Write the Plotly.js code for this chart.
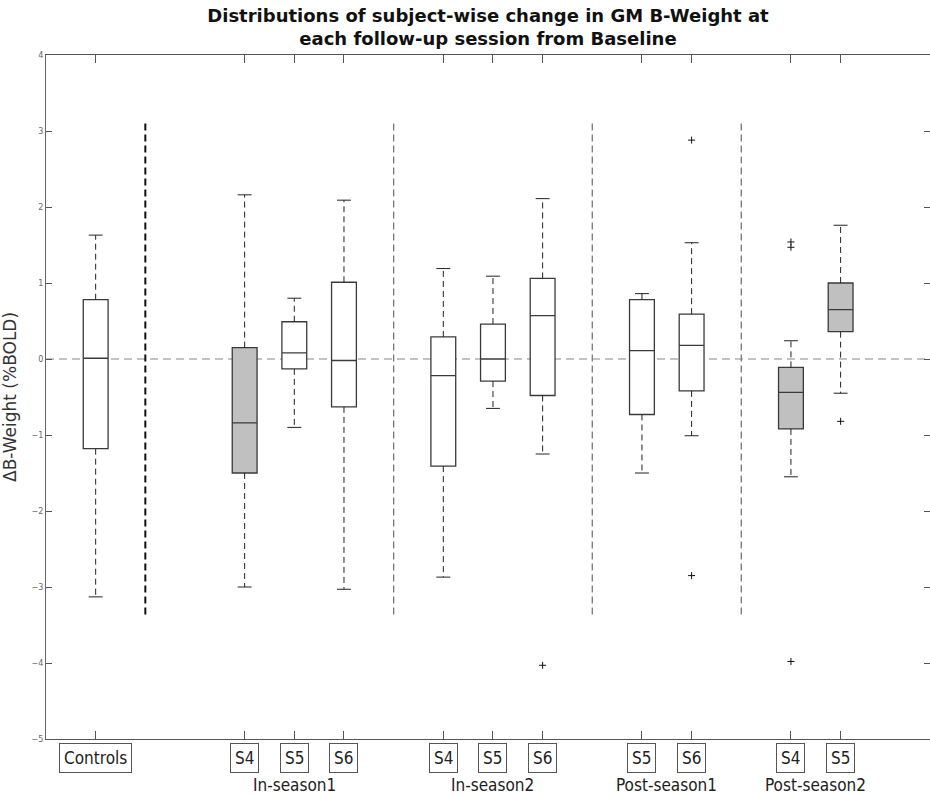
<!DOCTYPE html>
<html>
<head>
<meta charset="utf-8">
<script src="https://cdn.plot.ly/plotly-3.0.1.min.js"></script>
<style>html,body{margin:0;padding:0;background:#fff;}#chart{width:930px;height:797px;}</style>
</head>
<body>
<div id="chart"></div>
<script>
// ---- data ----
const positions   = [1, 4, 5, 6, 8, 9, 10, 12, 13, 15, 16];
const boxLabels   = ['Controls','S4','S5','S6','S4','S5','S6','S5','S6','S4','S5'];
const upperWhisk  = [1.63, 2.16, 0.80, 2.09, 1.19, 1.09, 2.11, 0.86, 1.53, 0.24, 1.76];
const q3Vals      = [0.78, 0.15, 0.49, 1.01, 0.29, 0.46, 1.06, 0.78, 0.59, -0.11, 1.00];
const medianVals  = [0.01, -0.84, 0.08, -0.02, -0.22, 0.00, 0.57, 0.11, 0.18, -0.44, 0.65];
const q1Vals      = [-1.18, -1.50, -0.13, -0.63, -1.41, -0.29, -0.48, -0.73, -0.42, -0.92, 0.36];
const lowerWhisk  = [-3.13, -3.00, -0.90, -3.03, -2.87, -0.65, -1.25, -1.50, -1.01, -1.55, -0.45];
const shadedBoxes = [1, 9, 10];           // indices of grey-filled boxes
const outlierX    = [10, 13, 13, 15, 15, 15, 16];
const outlierY    = [-4.03, 2.88, -2.85, 1.54, 1.47, -3.98, -0.82];
const groupLabels = ['In-season1', 'In-season2', 'Post-season1', 'Post-season2'];
const groupX      = [5, 9, 12.5, 15.5];
const separatorX  = [2, 7, 11, 14];
const separatorTop = 3.1, separatorBottom = -3.4;
const yTicks      = [-5, -4, -3, -2, -1, 0, 1, 2, 3, 4];

// ---- build traces ----
function pick(arr, idx) { return idx.map(i => arr[i]); }
const allIdx = positions.map((_, i) => i);
const whiteIdx = allIdx.filter(i => !shadedBoxes.includes(i));

const traces = [];
separatorX.forEach((sx, k) => {
  traces.push({
    type: 'scatter', mode: 'lines', x: [sx, sx], y: [separatorTop, separatorBottom],
    line: k === 0 ? {color: '#111', width: 2, dash: '7px,4px'} : {color: '#777', width: 1.3, dash: '7px,4px'},
    hoverinfo: 'skip', showlegend: false
  });
});
const wx = [], wy = [];
positions.forEach((p, i) => {
  wx.push(p, p, null, p, p, null);
  wy.push(q3Vals[i], upperWhisk[i], null, q1Vals[i], lowerWhisk[i], null);
});
traces.push({type: 'scatter', mode: 'lines', x: wx, y: wy,
  line: {color: '#222', width: 1, dash: '6px,4px'}, hoverinfo: 'skip', showlegend: false});
const cx = [], cy = [];
const capHalf = 0.14;
positions.forEach((p, i) => {
  cx.push(p - capHalf, p + capHalf, null, p - capHalf, p + capHalf, null);
  cy.push(upperWhisk[i], upperWhisk[i], null, lowerWhisk[i], lowerWhisk[i], null);
});
traces.push({type: 'scatter', mode: 'lines', x: cx, y: cy,
  line: {color: '#222', width: 1}, hoverinfo: 'skip', showlegend: false});
function boxTrace(idx, fill) {
  return {
    type: 'box', x: pick(positions, idx), q1: pick(q1Vals, idx), median: pick(medianVals, idx),
    q3: pick(q3Vals, idx), lowerfence: pick(q1Vals, idx), upperfence: pick(q3Vals, idx),
    width: 0.5, whiskerwidth: 0, fillcolor: fill, line: {color: '#3a3a3a', width: 1.3},
    boxpoints: false, hoverinfo: 'skip', showlegend: false
  };
}
traces.push(boxTrace(whiteIdx, '#ffffff'));
traces.push(boxTrace(shadedBoxes, '#c0c0c0'));
traces.push({type: 'scatter', mode: 'markers', x: outlierX, y: outlierY,
  marker: {symbol: 'cross-thin', size: 5, line: {color: '#111', width: 1}},
  hoverinfo: 'skip', showlegend: false});

// ---- annotations ----
const labelFont = {family: 'DejaVu Sans Condensed, DejaVu Sans', size: 17, color: '#222'};
const annotations = [];
positions.forEach((p, i) => {
  annotations.push({
    x: p, xref: 'x', y: 0, yref: 'paper', yshift: -19, yanchor: 'middle', showarrow: false,
    text: boxLabels[i], font: labelFont,
    bordercolor: '#555', borderwidth: 1, borderpad: 4, bgcolor: '#fff'
  });
});
groupLabels.forEach((g, i) => {
  annotations.push({
    x: groupX[i], xref: 'x', y: 0, yref: 'paper', yshift: -46, yanchor: 'middle', showarrow: false,
    text: g, font: labelFont
  });
});
annotations.push({
  x: -36 / 884, xref: 'paper', xanchor: 'center', y: 0.5, yref: 'paper', yanchor: 'middle',
  showarrow: false, textangle: -90, text: 'ΔB-Weight (%BOLD)',
  font: {family: 'DejaVu Sans', size: 17, color: '#333'}
});

const layout = {
  width: 930, height: 797,
  margin: {l: 46, r: 0, t: 55, b: 58},
  paper_bgcolor: '#fff', plot_bgcolor: '#fff',
  title: {
    text: '<b>Distributions of subject-wise change in GM B-Weight at<br>each follow-up session from Baseline</b>',
    font: {family: 'DejaVu Sans', size: 18, color: '#111'},
    x: 0.5, xref: 'paper', xanchor: 'center', y: 1 - 22 / 797, yref: 'container', yanchor: 'middle'
  },
  xaxis: {
    range: [0, 17.8], tickvals: positions, showticklabels: false,
    ticks: 'inside', ticklen: 8, tickcolor: '#555', showline: true, linecolor: '#555', linewidth: 1,
    mirror: 'ticks', showgrid: false, zeroline: false, fixedrange: true
  },
  yaxis: {
    range: [-5, 4], tickvals: yTicks, ticks: 'inside', ticklen: 6, tickcolor: '#555',
    showline: true, linecolor: '#666', linewidth: 1, mirror: 'ticks', showgrid: false, zeroline: false,
    tickfont: {family: 'DejaVu Sans', size: 8, color: '#666'},
    fixedrange: true
  },
  shapes: [{type: 'line', xref: 'paper', x0: 0, x1: 1, yref: 'y', y0: 0, y1: 0, layer: 'below',
    line: {color: '#888', width: 1, dash: '8px,5px'}}],
  annotations: annotations
};

Plotly.newPlot('chart', traces, layout, {displayModeBar: false, staticPlot: true});
</script>
</body>
</html>
